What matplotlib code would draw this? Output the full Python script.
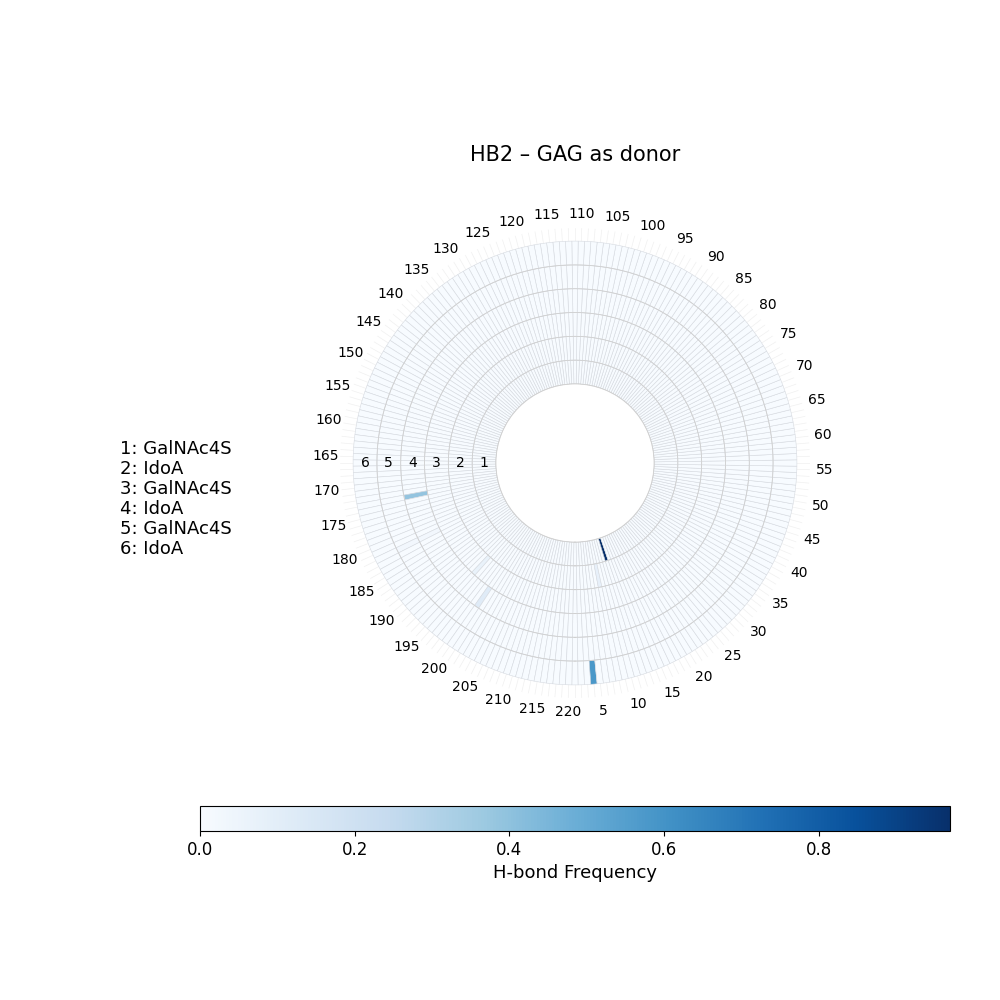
import numpy as np
import matplotlib; matplotlib.use("Agg")
import matplotlib.pyplot as plt
from matplotlib import cm, colors

n_res = 220
gag_names = ["GalNAc4S", "IdoA", "GalNAc4S", "IdoA", "GalNAc4S", "IdoA"]
# non-zero H-bond frequencies: (GAG residue ring, protein residue, value)
hit_rings = [1, 2, 3, 4, 4, 4, 5, 6]
hit_res = [12, 8, 195, 200, 173, 182, 182, 4]
hit_vals = [0.97, 0.08, 0.07, 0.12, 0.39, 0.03, 0.03, 0.58]
vmax = 0.97

freq = np.zeros((len(gag_names), n_res))
for r, i, v in zip(hit_rings, hit_res, hit_vals):
    freq[r - 1, i - 1] = v

dth = 2 * np.pi / n_res
theta = np.arange(n_res) * dth
norm = colors.Normalize(0, vmax)
cmap = plt.get_cmap("Blues")

fig = plt.figure(figsize=(10, 10), dpi=100)
ax = fig.add_axes([0.34, 0.302, 0.47, 0.47], projection="polar")
ax.set_theta_offset(-np.pi / 2)
ax.set_rorigin(-3.32)
ax.set_ylim(0, 6.55)
ax.set_axisbelow(True)

for k in range(len(gag_names)):
    ax.bar(theta, 1, width=dth, bottom=k, color=cmap(norm(freq[k])),
           edgecolor="#d6dae0", linewidth=0.4)

# ring boundaries
tt = np.linspace(0, 2 * np.pi, 721)
for r in range(len(gag_names)):
    ax.plot(tt, np.full_like(tt, r), color="#d0d0d0", lw=0.6, zorder=3)

ax.set_xticks(theta)
ax.set_xticklabels([str(i + 1) if (i + 1) % 5 == 0 else "" for i in range(n_res)], fontsize=10)
ax.tick_params(axis="x", length=0)
ax.xaxis.grid(True, color="#f0f0f0", lw=0.5)
ax.set_yticks([])
ax.spines["polar"].set_visible(False)
ax.spines["inner"].set_edgecolor("#d0d0d0")
ax.spines["inner"].set_linewidth(0.6)

for k in range(len(gag_names)):
    ax.text(1.5 * np.pi, k + 0.5, str(k + 1), ha="center", va="center", fontsize=10, zorder=4)

ax.set_title("HB2 \u2013 GAG as donor", fontsize=15, pad=48)

fig.text(0.12, 0.501, "\n".join(f"{k + 1}: {n}" for k, n in enumerate(gag_names)),
         fontsize=13, va="center", ha="left", linespacing=1.15)

cax = fig.add_axes([0.2, 0.169, 0.75, 0.025])
sm = cm.ScalarMappable(norm=norm, cmap=cmap)
cb = fig.colorbar(sm, cax=cax, orientation="horizontal")
cb.ax.tick_params(labelsize=12)
cb.set_label("H-bond Frequency", fontsize=13)

fig.savefig("out.png", dpi=100)
